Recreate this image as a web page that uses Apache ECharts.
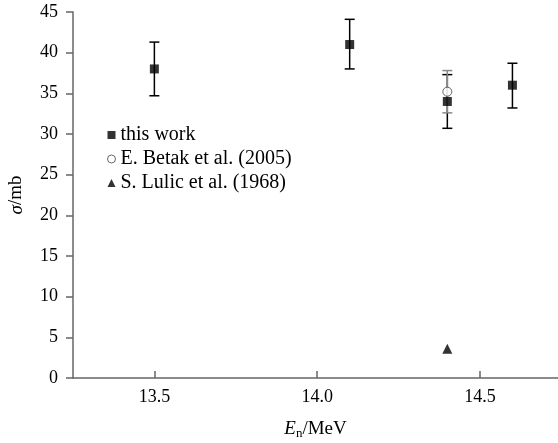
<!DOCTYPE html>
<html>
<head>
<meta charset="utf-8">
<script src="https://cdn.jsdelivr.net/npm/echarts@6/dist/echarts.min.js"></script>
<style>
  html, body { margin: 0; padding: 0; background: #fff; }
  #chart { width: 558px; height: 443px; }
</style>
</head>
<body>
<div id="chart"></div>
<script>
// energies (MeV) and cross sections (mb) with error limits
const thisWorkE = [13.5, 14.1, 14.4, 14.6]
const thisWorkSigma = [38.0, 41.0, 34.0, 36.0]
const thisWorkLow = [34.7, 38.0, 30.7, 33.2]
const thisWorkHigh = [41.3, 44.1, 37.3, 38.7]

const betakE = [14.4]
const betakSigma = [35.2]
const betakLow = [32.6]
const betakHigh = [37.8]

const lulicE = [14.4]
const lulicSigma = [3.6]

const xTicks = [13.5, 14.0, 14.5]

const serif = 'Liberation Serif'

const errorBars = (xs, lo, hi, color) => ({
  type: 'custom',
  silent: true,
  data: xs.map((x, i) => [x, lo[i], hi[i]]),
  renderItem: (params, api) => {
    const top = api.coord([api.value(0), api.value(2)])
    const bot = api.coord([api.value(0), api.value(1)])
    const cap = 5
    const style = { stroke: color, lineWidth: 1.5 }
    return {
      type: 'group',
      children: [
        { type: 'line', shape: { x1: top[0], y1: top[1], x2: bot[0], y2: bot[1] }, style },
        { type: 'line', shape: { x1: top[0] - cap, y1: top[1], x2: top[0] + cap, y2: top[1] }, style },
        { type: 'line', shape: { x1: bot[0] - cap, y1: bot[1], x2: bot[0] + cap, y2: bot[1] }, style },
      ],
    }
  },
  z: 1,
})

const chart = echarts.init(document.getElementById('chart'))
chart.setOption({
  animation: false,
  grid: { left: 73, right: 0, top: 12, bottom: 65, outerBoundsMode: 'none' },
  legend: {
    orient: 'vertical',
    left: 102,
    top: 120,
    itemWidth: 8,
    itemHeight: 8,
    itemGap: 4,
    textStyle: { fontFamily: serif, fontSize: 20, color: '#000' },
    data: [
      { name: 'this work', icon: 'rect', itemStyle: { color: '#000' } },
      { name: 'E. Betak et al. (2005)', icon: 'circle', itemStyle: { color: '#fff', borderColor: '#444', borderWidth: 1 } },
      { name: 'S. Lulic et al. (1968)', icon: 'triangle', itemStyle: { color: '#000' } },
    ],
  },
  xAxis: {
    type: 'value',
    min: 13.25,
    max: 14.74,
    name: '{it|E}{sub|n}/MeV',
    nameLocation: 'middle',
    nameGap: 40,
    nameTextStyle: {
      fontFamily: serif, fontSize: 19, color: '#000',
      rich: {
        it: { fontFamily: serif, fontSize: 19, fontStyle: 'italic', color: '#000' },
        sub: { fontFamily: serif, fontSize: 13, color: '#000', verticalAlign: 'bottom', padding: [9, 0, 0, 0] },
      },
    },
    axisLine: { lineStyle: { color: '#666', width: 1.5 } },
    axisTick: { inside: true, length: 7, customValues: xTicks, lineStyle: { color: '#666', width: 1.5 } },
    axisLabel: {
      customValues: xTicks,
      formatter: (v) => v.toFixed(1),
      fontFamily: serif, fontSize: 18, color: '#000', margin: 10,
    },
    splitLine: { show: false },
  },
  yAxis: {
    type: 'value',
    min: 0,
    max: 45,
    interval: 5,
    name: '{it|σ}/mb',
    nameLocation: 'middle',
    nameGap: 47,
    nameTextStyle: {
      fontFamily: serif, fontSize: 19, color: '#000',
      rich: { it: { fontFamily: serif, fontSize: 19, fontStyle: 'italic', color: '#000' } },
    },
    axisLine: { show: true, lineStyle: { color: '#666', width: 1.5 } },
    axisTick: { show: true, length: 7, lineStyle: { color: '#666', width: 1.5 } },
    axisLabel: { fontFamily: serif, fontSize: 18, color: '#000', margin: 15 },
    splitLine: { show: false },
  },
  series: [
    errorBars(thisWorkE, thisWorkLow, thisWorkHigh, '#000'),
    errorBars(betakE, betakLow, betakHigh, '#888'),
    {
      name: 'this work',
      type: 'scatter',
      symbol: 'rect',
      symbolSize: 9,
      itemStyle: { color: '#000' },
      data: thisWorkE.map((x, i) => [x, thisWorkSigma[i]]),
      z: 3,
    },
    {
      name: 'E. Betak et al. (2005)',
      type: 'scatter',
      symbol: 'circle',
      symbolSize: 9,
      itemStyle: { color: '#fff', borderColor: '#444', borderWidth: 1 },
      data: betakE.map((x, i) => [x, betakSigma[i]]),
      z: 4,
    },
    {
      name: 'S. Lulic et al. (1968)',
      type: 'scatter',
      symbol: 'triangle',
      symbolSize: 10,
      itemStyle: { color: '#000' },
      data: lulicE.map((x, i) => [x, lulicSigma[i]]),
      z: 3,
    },
  ],
})
</script>
</body>
</html>
